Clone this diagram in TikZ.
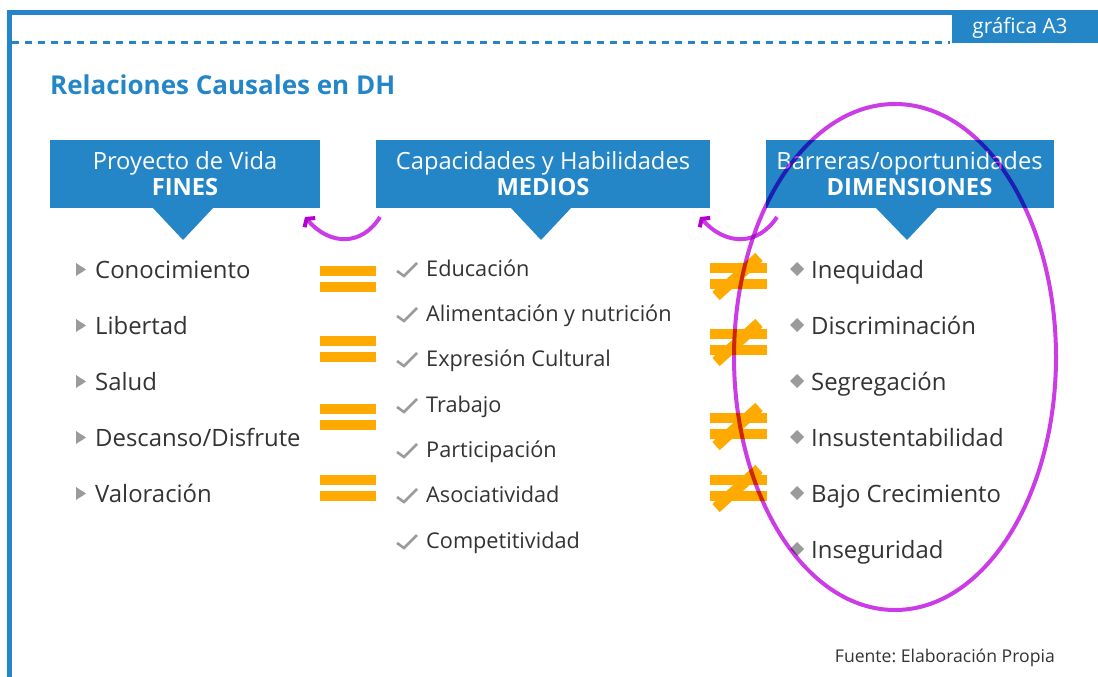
\documentclass[tikz,border=0pt]{standalone}
\usepackage{fontspec}
\setmainfont{Open Sans}
\usetikzlibrary{arrows.meta}
\definecolor{dhblue}{RGB}{37,134,199}
\definecolor{dhgray}{RGB}{51,51,51}
\definecolor{dhorange}{RGB}{255,170,0}
\definecolor{dhmag}{RGB}{204,60,230}
\definecolor{dhtip}{RGB}{180,0,210}
\definecolor{dhmark}{RGB}{155,155,155}
\frenchspacing
\tikzset{
  hdrbox/.style={fill=dhblue, text=white, minimum height=68pt, inner sep=0pt, align=center,
     font=\fontsize{23.7}{26}\selectfont},
  pointer/.style={fill=dhblue},
  itemL/.style={anchor=base west, text=dhgray, inner sep=0pt, font=\fontsize{23.9}{26}\selectfont},
  itemM/.style={anchor=base west, text=dhgray, inner sep=0pt, font=\fontsize{21.7}{24}\selectfont},
  bar/.style={fill=dhorange},
  slash/.style={draw=dhorange, line width=11pt},
  curvarrow/.style={draw=dhmag, line width=4pt, -{Straight Barb[length=5pt,width=14pt,color=dhtip]}},
  tri/.style={fill=dhmark},
  chk/.style={draw=dhmark, line width=2.6pt, line join=miter},
}
\newcommand{\eqsign}[1]{%
  \fill[bar] (320,#1-13) rectangle (376,#1-3);
  \fill[bar] (320,#1+3) rectangle (376,#1+13);}
\newcommand{\neqsign}[1]{%
  \fill[bar] (710,#1-13) rectangle (767,#1-3);
  \fill[bar] (710,#1+3) rectangle (767,#1+13);
  \draw[slash] (716,#1+20) -- (759,#1-19);}
\newcommand{\tria}[1]{\fill[tri] (76,#1-15) -- (76,#1-2) -- (86,#1-8.5) -- cycle;}
\newcommand{\chkm}[1]{\draw[chk] (397,#1-5) -- (404,#1) -- (417,#1-13);}
\newcommand{\diam}[1]{\fill[tri] (797,#1-16) -- (804,#1-9) -- (797,#1-2) -- (790,#1-9) -- cycle;}
\begin{document}
\begin{tikzpicture}[x=1pt,y=-1pt]
\useasboundingbox (0,0) rectangle (1098,677);
% frame
\draw[dhblue, line width=4.5pt] (9.5,677) -- (9.5,12.5) -- (1098,12.5);
\draw[dhblue, line width=3pt, dash pattern=on 7pt off 6pt] (12,43) -- (950,43);
\fill[dhblue] (952,12) rectangle (1098,43);
\node[inner sep=0pt, text=white, font=\fontsize{20.8}{22}\selectfont] (tab) at (1020,28) {gráfica A3};
% title
\node[anchor=base west, inner sep=0pt, text=dhblue, font=\fontsize{26}{30}\selectfont\bfseries] (title) at (50,95) {Relaciones Causales en DH};
% header boxes
\node[hdrbox, minimum width=270pt] (fines) at (185,174) {Proyecto de Vida\\\textbf{FINES}};
\node[hdrbox, minimum width=334pt] (medios) at (543,174) {Capacidades y Habilidades\\\textbf{MEDIOS}};
\node[hdrbox, minimum width=288pt] (dims) at (909.5,174) {Barreras/oportunidades\\\textbf{DIMENSIONES}};
\fill[pointer] (152,207) -- (214,207) -- (183,240) -- cycle;
\fill[pointer] (510,207) -- (572,207) -- (541,240) -- cycle;
\fill[pointer] (875,207) -- (938,207) -- (907,240) -- cycle;
% curved arrows
\coordinate (a1s) at (380,217);
\coordinate (a1e) at (305,217);
\coordinate (a2s) at (777,217);
\coordinate (a2e) at (700,217);
\draw[curvarrow] (a1s) .. controls (362,246) and (330,246) .. (a1e);
\draw[curvarrow] (a2s) .. controls (758,246) and (726,246) .. (a2e);
% left list
\foreach \y/\t [count=\i] in {278/Conocimiento,334/Libertad,390/Salud,446/Descanso\slash Disfrute,502/Valoración}{
  \tria{\y}
  \node[itemL] (L\i) at (95,\y) {\t};
}
% equals
\eqsign{279}\eqsign{349}\eqsign{417}\eqsign{488}
% middle list
\foreach \y/\t [count=\i] in {276/Educación,321/Alimentación y nutrición,366/Expresión Cultural,412/Trabajo,457/Participación,502/Asociatividad,548/Competitividad}{
  \chkm{\y}
  \node[itemM] (M\i) at (426,\y) {\t};
}
% not equals
\neqsign{276}\neqsign{342}\neqsign{426}\neqsign{488}
% right list
\foreach \y/\t [count=\i] in {278/Inequidad,334/Discriminación,390/Segregación,446/Insustentabilidad,502/Bajo Crecimiento,558/Inseguridad}{
  \diam{\y}
  \node[itemL] (R\i) at (811,\y) {\t};
}
% source
\node[anchor=base east, inner sep=0pt, text=dhgray, font=\fontsize{17.6}{20}\selectfont] (src) at (1055,662) {Fuente: Elaboración Propia};
% ellipse
\begin{scope}[blend mode=multiply]
\draw[dhmag, line width=4pt] (895,357) ellipse [x radius=161pt, y radius=253pt];
\end{scope}
\end{tikzpicture}
\end{document}
